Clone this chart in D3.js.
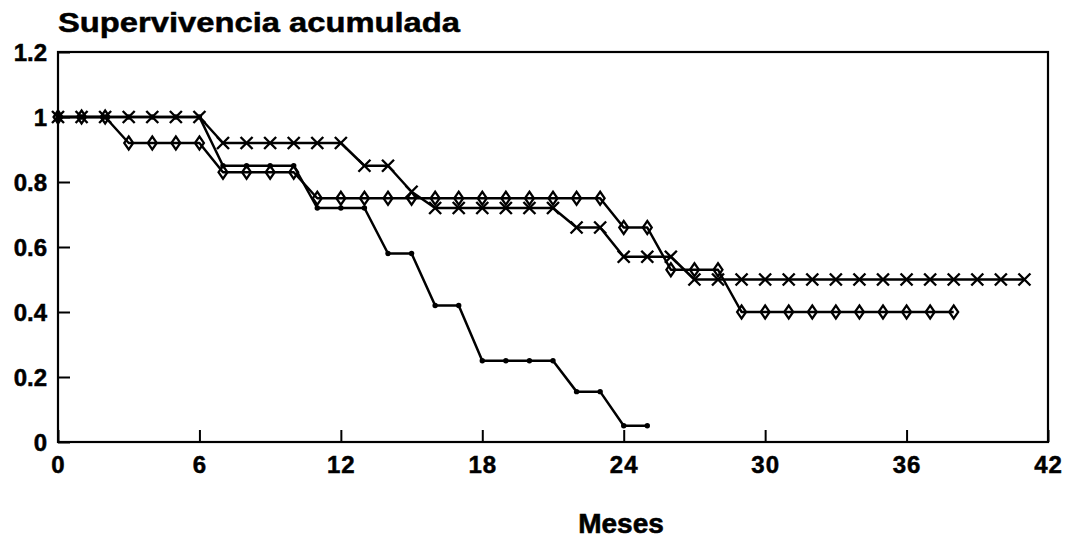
<!DOCTYPE html>
<html>
<head>
<meta charset="utf-8">
<script src="https://cdn.jsdelivr.net/npm/d3@7"></script>
<style>
  body { margin: 0; background: #fff; }
  text { font-family: "Liberation Sans", Arial, sans-serif; font-weight: bold; fill: #000; }
</style>
</head>
<body>
<svg class="d3svg" width="1073" height="539"></svg>
<script>
// survival curves
var cross_months = [0,1,2,3,4,5,6,7,8,9,10,11,12,13,14,15,16,17,18,19,20,
                    21,22,23,24,25,26,27,28,29,30,31,32,33,34,35,36,37,38,39,40,41];
var cross_vals = [1,1,1,1,1,1,1, 0.92,0.92,0.92,0.92,0.92,0.92, 0.85,0.85, 0.77,
                  0.72,0.72,0.72,0.72,0.72,0.72, 0.66,0.66, 0.57,0.57,0.57,
                  0.5,0.5,0.5,0.5,0.5,0.5,0.5,0.5,0.5,0.5,0.5,0.5,0.5,0.5,0.5];

var diamond_months = [0,1,2,3,4,5,6,7,8,9,10,11,12,13,14,15,16,17,18,19,
                      20,21,22,23,24,25,26,27,28,29,30,31,32,33,34,35,36,37,38];
var diamond_vals = [1,1,1, 0.92,0.92,0.92,0.92, 0.83,0.83,0.83,0.83,
                    0.75,0.75,0.75,0.75,0.75,0.75,0.75,0.75,0.75,0.75,0.75,0.75,0.75,
                    0.66,0.66, 0.53,0.53,0.53,
                    0.4,0.4,0.4,0.4,0.4,0.4,0.4,0.4,0.4,0.4];

var dot_months = [0,1,2,3,4,5,6,7,8,9,10,11,12,13,14,15,16,17,18,19,20,21,22,23,24,25];
var dot_vals = [1,1,1,1,1,1,1, 0.85,0.85,0.85,0.85, 0.72,0.72,0.72, 0.58,0.58,
                0.42,0.42, 0.25,0.25,0.25,0.25, 0.155,0.155, 0.05,0.05];

var x_ticks = [0,6,12,18,24,30,36,42];
var y_ticks = [0,0.2,0.4,0.6,0.8,1,1.2];
var y_tick_labels = ["0","0.2","0.4","0.6","0.8","1","1.2"];

var title_text = "Supervivencia acumulada";
var x_title = "Meses";

var heavy_font = "'DejaVu Sans', sans-serif";
var plain_font = "'Liberation Sans', Arial, sans-serif";

var svg = d3.select(".d3svg");

// plot box (don't call these top/left: window.top is read-only)
var plot_left = 58, plot_right = 1048, plot_top = 52, plot_bottom = 442;

var x = d3.scaleLinear().domain([0, 42]).range([plot_left, plot_right]);
var y = d3.scaleLinear().domain([0, 1.2]).range([plot_bottom, plot_top]);

function pts(months, vals) {
    return months.map(function(m, i) { return {x: m, y: vals[i]}; });
}

var cross_data = pts(cross_months, cross_vals);
var diamond_data = pts(diamond_months, diamond_vals);
var dot_data = pts(dot_months, dot_vals);

var lineFunction = d3.line()
    .x(function(d) { return x(d.x); })
    .y(function(d) { return y(d.y); });

// axes (ticks point inward)
var x_axis = svg.append("g")
    .attr("transform", "translate(0," + plot_bottom + ")")
    .call(d3.axisBottom(x).tickValues(x_ticks).tickSize(-12).tickPadding(14).tickFormat(d3.format("d")));

var y_axis = svg.append("g")
    .attr("transform", "translate(" + plot_left + ",0)")
    .call(d3.axisLeft(y).tickValues(y_ticks).tickSize(-12).tickPadding(11)
        .tickFormat(function(d, i) { return y_tick_labels[i]; }));

[x_axis, y_axis].forEach(function(g) {
    g.select(".domain").remove();
    g.selectAll(".tick line").attr("stroke", "#000").attr("stroke-width", 2);
    g.selectAll(".tick text")
        .attr("font-weight", "bold")
        .attr("fill", "#000")
        .attr("stroke", "#000")
        .attr("stroke-width", 0.5);
});
x_axis.selectAll(".tick text")
    .attr("font-family", plain_font)
    .attr("font-size", 24)
    .attr("letter-spacing", 1);
y_axis.selectAll(".tick text")
    .attr("font-family", heavy_font)
    .attr("font-size", 24)
    .attr("dy", "0.36em");

// frame
svg.append("rect")
    .attr("x", plot_left)
    .attr("y", plot_top)
    .attr("width", plot_right - plot_left)
    .attr("height", plot_bottom - plot_top)
    .attr("fill", "none")
    .attr("stroke", "#000")
    .attr("stroke-width", 2.2);

// lines
[dot_data, diamond_data, cross_data].forEach(function(data) {
    svg.append("path")
        .attr("d", lineFunction(data))
        .attr("fill", "none")
        .attr("stroke", "#000")
        .attr("stroke-width", 2.5)
        .attr("stroke-linejoin", "round");
});

// markers
svg.append("g").selectAll("circle")
    .data(dot_data)
    .enter()
    .append("circle")
    .attr("cx", function(d) { return x(d.x); })
    .attr("cy", function(d) { return y(d.y); })
    .attr("r", 2.7)
    .attr("fill", "#000");

svg.append("g").selectAll("path")
    .data(diamond_data)
    .enter()
    .append("path")
    .attr("d", function(d) {
        var cx = x(d.x), cy = y(d.y);
        return "M" + cx + "," + (cy - 6.5) + "L" + (cx + 4.5) + "," + cy +
               "L" + cx + "," + (cy + 6.5) + "L" + (cx - 4.5) + "," + cy + "Z";
    })
    .attr("fill", "none")
    .attr("stroke", "#000")
    .attr("stroke-width", 2.2);

svg.append("g").selectAll("path")
    .data(cross_data)
    .enter()
    .append("path")
    .attr("d", function(d) {
        var cx = x(d.x), cy = y(d.y), s = 6;
        return "M" + (cx - s) + "," + (cy - s) + "L" + (cx + s) + "," + (cy + s) +
               "M" + (cx - s) + "," + (cy + s) + "L" + (cx + s) + "," + (cy - s);
    })
    .attr("fill", "none")
    .attr("stroke", "#000")
    .attr("stroke-width", 2.4);

// titles
svg.append("text")
    .attr("x", 58)
    .attr("y", 32)
    .attr("font-family", heavy_font)
    .attr("font-size", 28)
    .attr("textLength", 402)
    .attr("lengthAdjust", "spacingAndGlyphs")
    .attr("stroke", "#000")
    .attr("stroke-width", 0.5)
    .text(title_text);

svg.append("text")
    .attr("x", 621)
    .attr("y", 533)
    .attr("text-anchor", "middle")
    .attr("font-family", plain_font)
    .attr("font-size", 28)
    .attr("stroke", "#000")
    .attr("stroke-width", 0.6)
    .text(x_title);
</script>
</body>
</html>
